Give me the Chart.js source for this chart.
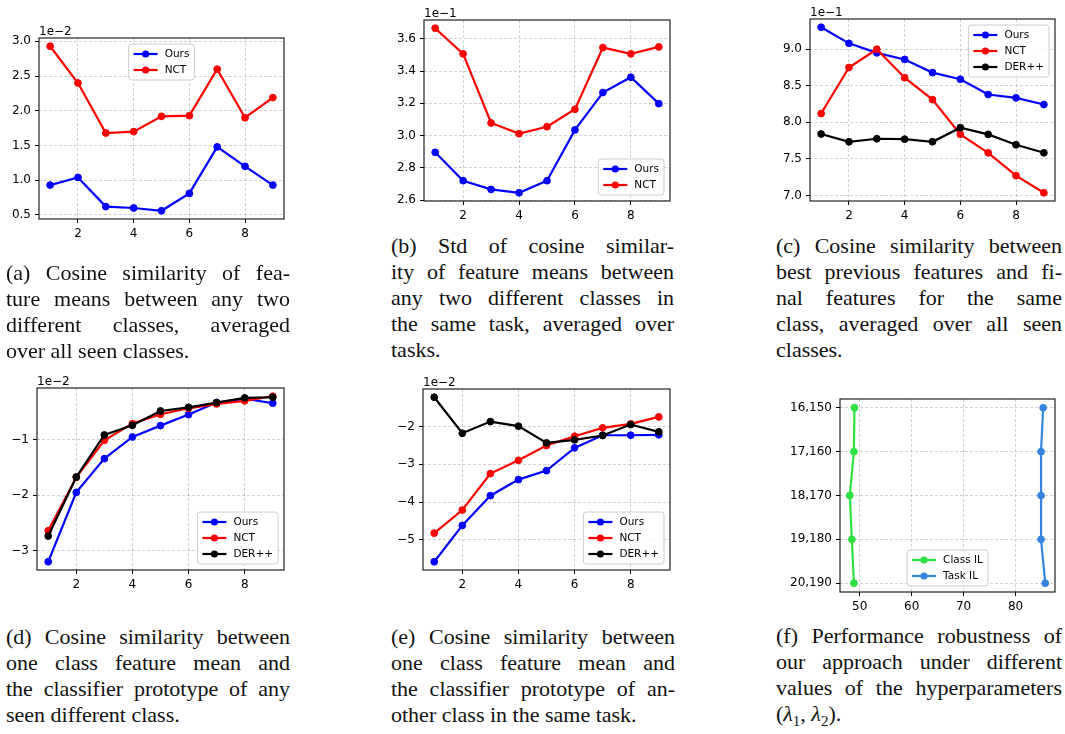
<!DOCTYPE html>
<html>
<head>
<meta charset="utf-8">
<script src="https://cdn.jsdelivr.net/npm/chart.js@4.4.1/dist/chart.umd.min.js"></script>
<style>
  body {
    margin: 0;
    background: #ffffff;
    width: 1065px;
    height: 734px;
    position: relative;
    overflow: hidden;
  }
  canvas {
    position: absolute;
  }
  .cap {
    position: absolute;
    font-family: "Liberation Serif", "Times New Roman", serif;
    font-size: 22px;
    line-height: 26px;
    color: #111111;
  }
  .cap div {
    text-align: justify;
    text-align-last: justify;
  }
  .cap div.last {
    text-align-last: left;
  }
  .cap sub {
    font-size: 15px;
    line-height: 0;
  }
</style>
</head>
<body>

<canvas id="chartA"></canvas>
<canvas id="chartB"></canvas>
<canvas id="chartC"></canvas>
<canvas id="chartD"></canvas>
<canvas id="chartE"></canvas>
<canvas id="chartF"></canvas>

<div class="cap" style="left:6px; top:260px; width:284px;">
  <div>(a) Cosine similarity of fea-</div>
  <div>ture means between any two</div>
  <div>different classes, averaged</div>
  <div class="last">over all seen classes.</div>
</div>
<div class="cap" style="left:391px; top:233px; width:283px;">
  <div>(b) Std of cosine similar-</div>
  <div>ity of feature means between</div>
  <div>any two different classes in</div>
  <div>the same task, averaged over</div>
  <div class="last">tasks.</div>
</div>
<div class="cap" style="left:776px; top:233px; width:286px;">
  <div>(c) Cosine similarity between</div>
  <div>best previous features and fi-</div>
  <div>nal features for the same</div>
  <div>class, averaged over all seen</div>
  <div class="last">classes.</div>
</div>
<div class="cap" style="left:6px; top:624px; width:284px;">
  <div>(d) Cosine similarity between</div>
  <div>one class feature mean and</div>
  <div>the classifier prototype of any</div>
  <div class="last">seen different class.</div>
</div>
<div class="cap" style="left:391px; top:624px; width:284px;">
  <div>(e) Cosine similarity between</div>
  <div>one class feature mean and</div>
  <div>the classifier prototype of an-</div>
  <div class="last">other class in the same task.</div>
</div>
<div class="cap" style="left:776px; top:623px; width:286px;">
  <div>(f) Performance robustness of</div>
  <div>our approach under different</div>
  <div>values of the hyperparameters</div>
  <div class="last">(<i>λ</i><sub>1</sub>, <i>λ</i><sub>2</sub>).</div>
</div>

<script>
// ======================================
// Data
// ======================================

const steps = [1, 2, 3, 4, 5, 6, 7, 8, 9];
const stepTicks = [2, 4, 6, 8];

// (a) values in units of 1e-2
const simOurs = [0.93, 1.04, 0.62, 0.60, 0.56, 0.81, 1.48, 1.20, 0.93];
const simNct = [2.93, 2.40, 1.68, 1.70, 1.92, 1.93, 2.60, 1.90, 2.19];
const simTicks = [0.5, 1.0, 1.5, 2.0, 2.5, 3.0];

// (b) values in units of 1e-1
const stdOurs = [2.896, 2.72, 2.666, 2.645, 2.72, 3.035, 3.267, 3.362, 3.198];
const stdNct = [3.666, 3.507, 3.078, 3.012, 3.055, 3.163, 3.546, 3.507, 3.55];
const stdTicks = [2.6, 2.8, 3.0, 3.2, 3.4, 3.6];

// (c) values in units of 1e-1
const bestOurs = [9.30, 9.08, 8.95, 8.86, 8.68, 8.59, 8.38, 8.335, 8.243];
const bestNct = [8.12, 8.75, 9.00, 8.61, 8.31, 7.835, 7.583, 7.27, 7.037];
const bestDer = [7.84, 7.734, 7.775, 7.77, 7.734, 7.927, 7.835, 7.693, 7.583];
const bestTicks = [7.0, 7.5, 8.0, 8.5, 9.0];

// (d) values in units of 1e-2
const protoAnyOurs = [-3.205, -1.952, -1.343, -0.952, -0.747, -0.548, -0.331, -0.259, -0.343];
const protoAnyNct = [-2.645, -1.68, -1.012, -0.711, -0.542, -0.434, -0.355, -0.30, -0.217];
const protoAnyDer = [-2.741, -1.675, -0.916, -0.741, -0.482, -0.416, -0.331, -0.247, -0.235];
const protoAnyTicks = [-3, -2, -1];

// (e) values in units of 1e-2
const protoTaskOurs = [-5.583, -4.62, -3.832, -3.406, -3.168, -2.565, -2.23, -2.23, -2.22];
const protoTaskNct = [-4.824, -4.212, -3.247, -2.894, -2.503, -2.256, -2.035, -1.93, -1.744];
const protoTaskDer = [-1.223, -2.177, -1.868, -1.99, -2.433, -2.353, -2.238, -1.947, -2.14];
const protoTaskTicks = [-5, -4, -3, -2];

// (f) robustness
const lambdaLabels = ["16,150", "17,160", "18,170", "19,180", "20,190"];
const classIL = [49.0, 48.9, 48.1, 48.5, 48.9];
const taskIL = [85.3, 84.9, 84.9, 84.9, 85.7];
const accTicks = [50, 60, 70, 80];


// ======================================
// Helpers
// ======================================

// matplotlib style autoscale: 5% margin
function paddedRange(arrays) {
  const all = [].concat(...arrays);
  const min = Math.min(...all);
  const max = Math.max(...all);
  const margin = (max - min) * 0.05;
  return [min - margin, max + margin];
}

function toPoints(xs, ys) {
  return xs.map((x, i) => ({ x: x, y: ys[i] }));
}

function makeSeries(label, color, xs, ys, order) {
  return {
    label: label,
    data: toPoints(xs, ys),
    borderColor: color,
    backgroundColor: color,
    pointBackgroundColor: color,
    pointBorderColor: color,
    borderWidth: 2.2,
    pointRadius: 3.4,
    pointBorderWidth: 1,
    tension: 0,
    order: order
  };
}

function fmtMinus(value) {
  return String(value).replace("-", "\u2212");
}

const tickFont = { family: "DejaVu Sans", size: 12 };

function linearAxis(range, ticks, formatter, extra) {
  return Object.assign({
    type: "linear",
    min: range[0],
    max: range[1],
    afterBuildTicks: (axis) => {
      axis.ticks = ticks.map((v) => ({ value: v }));
    },
    grid: {
      color: "rgba(150,150,150,0.55)",
      lineWidth: 0.8,
      drawTicks: true,
      tickLength: 4,
      tickColor: "#000000",
      tickWidth: 1
    },
    border: {
      display: false,
      dash: [3, 2]
    },
    ticks: {
      color: "#000000",
      font: tickFont,
      padding: 4,
      autoSkip: false,
      maxRotation: 0,
      callback: formatter
    }
  }, extra || {});
}


// ======================================
// Frame, offset text and legend (matplotlib look)
// ======================================

const mplDecor = {
  id: "mplDecor",
  afterDatasetsDraw(chart, args, opts) {
    const ctx = chart.ctx;
    const a = chart.chartArea;

    ctx.save();

    ctx.strokeStyle = "#222222";
    ctx.lineWidth = 1.2;
    ctx.strokeRect(a.left, a.top, a.right - a.left, a.bottom - a.top);

    if (opts.offsetText) {
      ctx.font = '12px "DejaVu Sans"';
      ctx.fillStyle = "#000000";
      ctx.textBaseline = "alphabetic";
      ctx.textAlign = "left";
      ctx.fillText(opts.offsetText, a.left, a.top - 3);
    }

    const sets = chart.data.datasets;
    ctx.font = '10.5px "DejaVu Sans"';
    const rowH = 16;
    const handle = 24;
    const gap = 7;
    const pad = 5;
    const margin = 6;
    const textW = Math.max(...sets.map((d) => ctx.measureText(d.label).width));
    const w = pad * 2 + handle + gap + textW;
    const h = sets.length * rowH + 4;
    const loc = opts.legendLoc || "upper right";

    let x = (a.left + a.right) / 2 - w / 2;
    if (loc.includes("right")) {
      x = a.right - margin - w;
    }
    let y = a.bottom - margin - h;
    if (loc.includes("upper")) {
      y = a.top + margin;
    }

    ctx.beginPath();
    ctx.roundRect(x, y, w, h, 3);
    ctx.fillStyle = "rgba(255,255,255,0.8)";
    ctx.fill();
    ctx.strokeStyle = "#cccccc";
    ctx.lineWidth = 1;
    ctx.stroke();

    sets.forEach((d, i) => {
      const cy = y + 2 + rowH * (i + 0.5);
      ctx.strokeStyle = d.borderColor;
      ctx.lineWidth = 2.2;
      ctx.beginPath();
      ctx.moveTo(x + pad, cy);
      ctx.lineTo(x + pad + handle, cy);
      ctx.stroke();

      ctx.fillStyle = d.borderColor;
      ctx.beginPath();
      ctx.arc(x + pad + handle / 2, cy, 3.6, 0, Math.PI * 2);
      ctx.fill();

      ctx.fillStyle = "#000000";
      ctx.textBaseline = "middle";
      ctx.textAlign = "left";
      ctx.fillText(d.label, x + pad + handle + gap, cy + 0.5);
    });

    ctx.restore();
  }
};


// ======================================
// Chart creation
// ======================================

const Y_AXIS_W = 60;
const X_AXIS_H = 25;
const PAD_TOP = 25;
const PAD_RIGHT = 8;

function createPanel(canvasId, area, datasets, xScale, yScale, decor) {
  const canvas = document.getElementById(canvasId);
  const width = (area.r - area.l) + Y_AXIS_W + PAD_RIGHT;
  const height = (area.b - area.t) + PAD_TOP + X_AXIS_H;

  canvas.width = width;
  canvas.height = height;
  canvas.style.width = width + "px";
  canvas.style.height = height + "px";
  canvas.style.left = (area.l - Y_AXIS_W) + "px";
  canvas.style.top = (area.t - PAD_TOP) + "px";

  xScale.afterFit = (scale) => {
    scale.height = X_AXIS_H;
  };
  yScale.afterFit = (scale) => {
    scale.width = Y_AXIS_W;
  };

  return new Chart(canvas, {
    type: "line",
    data: { datasets: datasets },
    options: {
      responsive: false,
      animation: false,
      devicePixelRatio: 1,
      layout: {
        padding: { top: PAD_TOP, right: PAD_RIGHT, left: 0, bottom: 0 }
      },
      plugins: {
        legend: { display: false },
        tooltip: { enabled: false },
        mplDecor: decor
      },
      scales: { x: xScale, y: yScale }
    },
    plugins: [mplDecor]
  });
}

const fixed1 = (v) => Number(v).toFixed(1);
const intMinus = (v) => fmtMinus(Math.round(v));
const plainInt = (v) => String(Math.round(v));
const stepRange = paddedRange([steps]);

const BLUE = "#0000ff";
const RED = "#ff0000";
const BLACK = "#000000";

// (a)
createPanel(
  "chartA",
  { l: 39, t: 38, r: 284, b: 219 },
  [
    makeSeries("Ours", BLUE, steps, simOurs, 2),
    makeSeries("NCT", RED, steps, simNct, 1)
  ],
  linearAxis(stepRange, stepTicks, plainInt),
  linearAxis(paddedRange([simOurs, simNct]), simTicks, fixed1),
  { offsetText: "1e\u22122", legendLoc: "upper center" }
);

// (b)
createPanel(
  "chartB",
  { l: 424, t: 20, r: 670, b: 201 },
  [
    makeSeries("Ours", BLUE, steps, stdOurs, 2),
    makeSeries("NCT", RED, steps, stdNct, 1)
  ],
  linearAxis(stepRange, stepTicks, plainInt),
  linearAxis(paddedRange([stdOurs, stdNct]), stdTicks, fixed1),
  { offsetText: "1e\u22121", legendLoc: "lower right" }
);

// (c)
createPanel(
  "chartC",
  { l: 810, t: 19, r: 1055, b: 201 },
  [
    makeSeries("Ours", BLUE, steps, bestOurs, 3),
    makeSeries("NCT", RED, steps, bestNct, 2),
    makeSeries("DER++", BLACK, steps, bestDer, 1)
  ],
  linearAxis(stepRange, stepTicks, plainInt),
  linearAxis(paddedRange([bestOurs, bestNct, bestDer]), bestTicks, fixed1),
  { offsetText: "1e\u22121", legendLoc: "upper right" }
);

// (d)
createPanel(
  "chartD",
  { l: 37, t: 388, r: 284, b: 570 },
  [
    makeSeries("Ours", BLUE, steps, protoAnyOurs, 3),
    makeSeries("NCT", RED, steps, protoAnyNct, 2),
    makeSeries("DER++", BLACK, steps, protoAnyDer, 1)
  ],
  linearAxis(stepRange, stepTicks, plainInt),
  linearAxis(paddedRange([protoAnyOurs, protoAnyNct, protoAnyDer]), protoAnyTicks, intMinus),
  { offsetText: "1e\u22122", legendLoc: "lower right" }
);

// (e)
createPanel(
  "chartE",
  { l: 423, t: 389, r: 670, b: 570 },
  [
    makeSeries("Ours", BLUE, steps, protoTaskOurs, 3),
    makeSeries("NCT", RED, steps, protoTaskNct, 2),
    makeSeries("DER++", BLACK, steps, protoTaskDer, 1)
  ],
  linearAxis(stepRange, stepTicks, plainInt),
  linearAxis(paddedRange([protoTaskOurs, protoTaskNct, protoTaskDer]), protoTaskTicks, intMinus),
  { offsetText: "1e\u22122", legendLoc: "lower right" }
);

// (f)
const lambdaIdx = lambdaLabels.map((_, i) => i);

createPanel(
  "chartF",
  { l: 840, t: 399, r: 1055, b: 592 },
  [
    makeSeries("Class IL", "#2ee040", classIL, lambdaIdx, 2),
    makeSeries("Task IL", "#3585e0", taskIL, lambdaIdx, 1)
  ],
  linearAxis(paddedRange([classIL, taskIL]), accTicks, plainInt),
  linearAxis(paddedRange([lambdaIdx]), lambdaIdx, (v) => lambdaLabels[Math.round(v)], { reverse: true }),
  { offsetText: "", legendLoc: "lower center" }
);
</script>
</body>
</html>
